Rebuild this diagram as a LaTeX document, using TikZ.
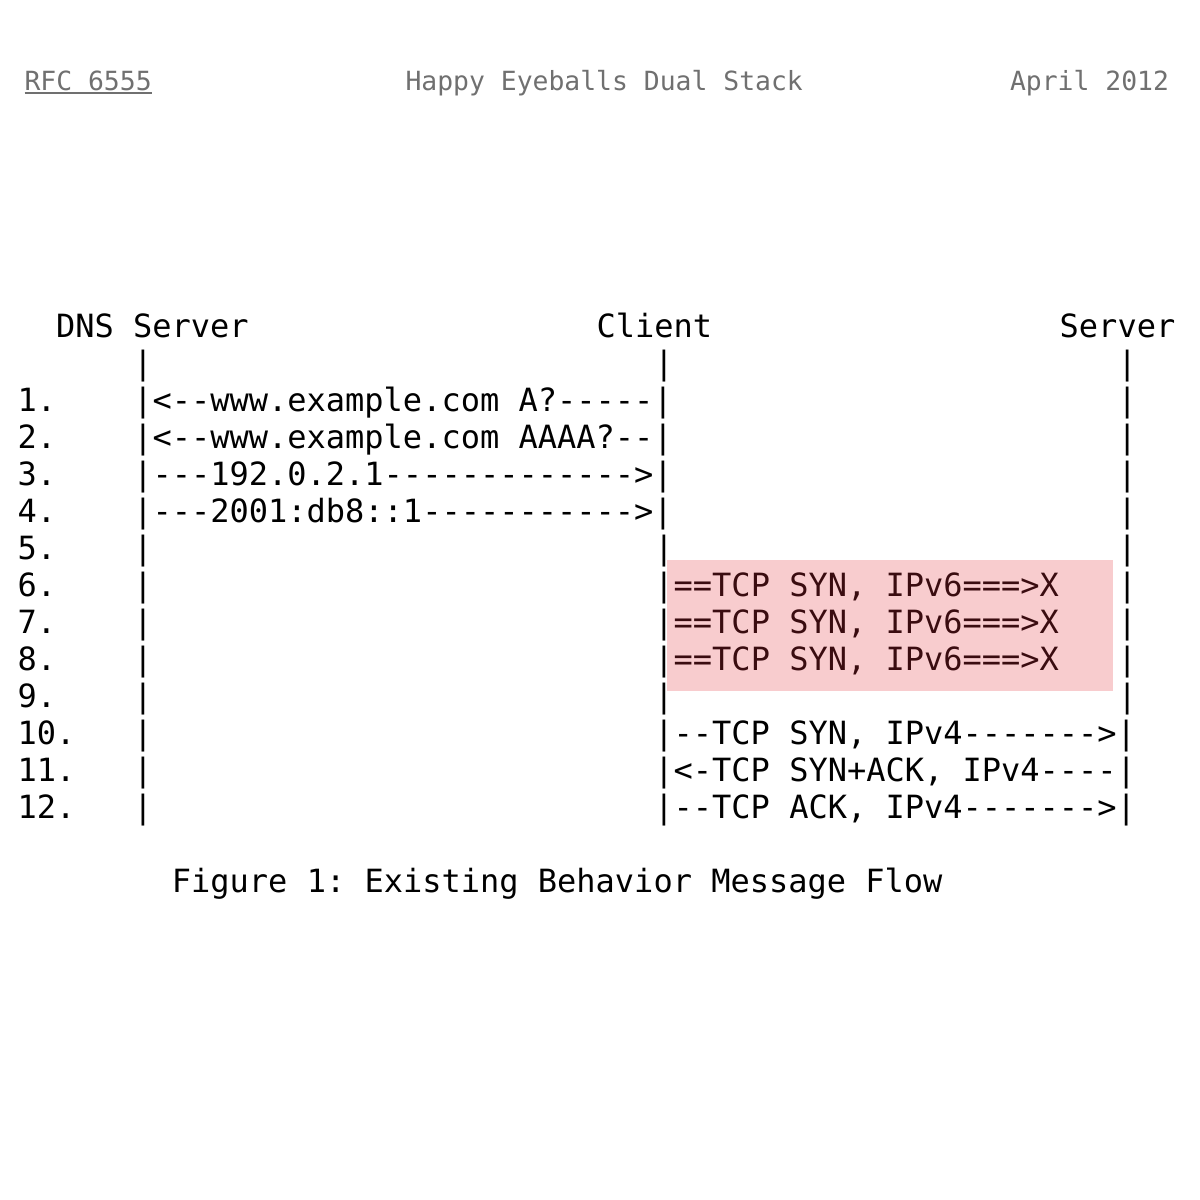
\documentclass[tikz,border=0pt]{standalone}
\usepackage{fontspec}
\setmonofont{DejaVu Sans Mono}
\definecolor{hdrgray}{RGB}{112,112,112}
\definecolor{pinkhl}{RGB}{248,204,206}
\definecolor{darkmaroon}{RGB}{58,12,16}
\tikzset{
  body/.style={anchor=base west, inner sep=0pt, outer sep=0pt, font=\ttfamily\fontsize{32bp}{37bp}\selectfont, text=black},
  hdr/.style={inner sep=0pt, outer sep=0pt, font=\ttfamily\fontsize{26.4bp}{30bp}\selectfont, text=hdrgray},
  hl/.style={text=darkmaroon},
}
\newcommand\cellnode[5][]{\node[body,#1] (#2) at ({17.5+19.3*#3},{337+37*#4}) {#5};}
\begin{document}
\begin{tikzpicture}[x=1bp,y=-1bp]
\fill[white] (0,0) rectangle (1200,1200);
\useasboundingbox (0,0) rectangle (1200,1200);
% header
\node[hdr, anchor=base west] (rfc) at (24.5,90) {RFC 6555};
\draw[hdrgray, line width=1.8bp] ([yshift=-3bp]rfc.base west) -- ([yshift=-3bp]rfc.base east);
\node[hdr, anchor=base west] (title) at (405.5,90) {Happy Eyeballs Dual Stack};
\node[hdr, anchor=base east] (date) at (1169,90) {April 2012};
% highlight
\fill[pinkhl] (667,560) rectangle (1113,691);
% column heads
\cellnode{hDNS}{2}{0}{DNS Server}
\cellnode{hClient}{30}{0}{Client}
\cellnode{hServer}{54}{0}{Server}
% bars row
\cellnode{b0a}{6}{1}{|}
\cellnode{b0b}{33}{1}{|}
\cellnode{b0c}{57}{1}{|}
% rows
\cellnode{n1}{0}{2}{1.}
\cellnode{m1}{6}{2}{|<--www.example.com A?-----|}
\cellnode{s1}{57}{2}{|}
\cellnode{n2}{0}{3}{2.}
\cellnode{m2}{6}{3}{|<--www.example.com AAAA?--|}
\cellnode{s2}{57}{3}{|}
\cellnode{n3}{0}{4}{3.}
\cellnode{m3}{6}{4}{|---192.0.2.1------------->|}
\cellnode{s3}{57}{4}{|}
\cellnode{n4}{0}{5}{4.}
\cellnode{m4}{6}{5}{|---2001:db8::1----------->|}
\cellnode{s4}{57}{5}{|}
\cellnode{n5}{0}{6}{5.}
\cellnode{d5}{6}{6}{|}
\cellnode{c5}{33}{6}{|}
\cellnode{s5}{57}{6}{|}
\cellnode{n6}{0}{7}{6.}
\cellnode{d6}{6}{7}{|}
\cellnode{c6}{33}{7}{|}
\cellnode[hl]{m6}{34}{7}{==TCP SYN, IPv6===>X}
\cellnode{s6}{57}{7}{|}
\cellnode{n7}{0}{8}{7.}
\cellnode{d7}{6}{8}{|}
\cellnode{c7}{33}{8}{|}
\cellnode[hl]{m7}{34}{8}{==TCP SYN, IPv6===>X}
\cellnode{s7}{57}{8}{|}
\cellnode{n8}{0}{9}{8.}
\cellnode{d8}{6}{9}{|}
\cellnode{c8}{33}{9}{|}
\cellnode[hl]{m8}{34}{9}{==TCP SYN, IPv6===>X}
\cellnode{s8}{57}{9}{|}
\cellnode{n9}{0}{10}{9.}
\cellnode{d9}{6}{10}{|}
\cellnode{c9}{33}{10}{|}
\cellnode{s9}{57}{10}{|}
\cellnode{n10}{0}{11}{10.}
\cellnode{d10}{6}{11}{|}
\cellnode{m10}{33}{11}{|--TCP SYN, IPv4------->|}
\cellnode{n11}{0}{12}{11.}
\cellnode{d11}{6}{12}{|}
\cellnode{m11}{33}{12}{|<-TCP SYN+ACK, IPv4----|}
\cellnode{n12}{0}{13}{12.}
\cellnode{d12}{6}{13}{|}
\cellnode{m12}{33}{13}{|--TCP ACK, IPv4------->|}
% caption
\cellnode{cap}{8}{15}{Figure 1: Existing Behavior Message Flow}
\end{tikzpicture}
\end{document}
